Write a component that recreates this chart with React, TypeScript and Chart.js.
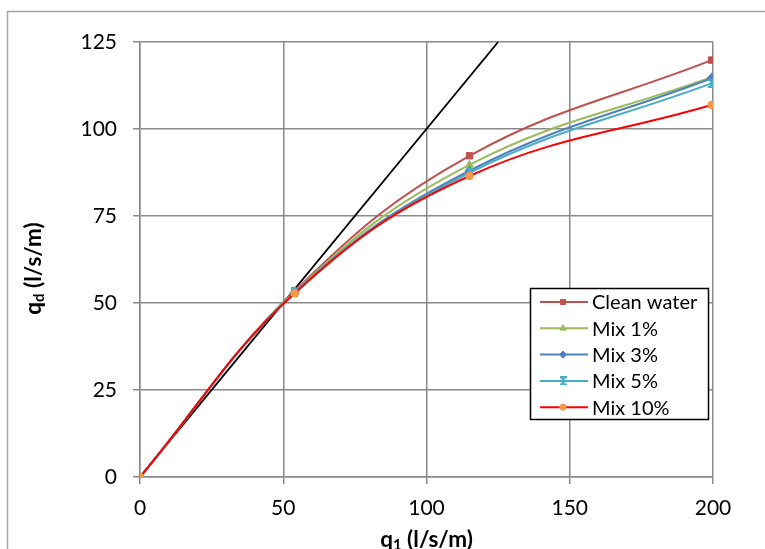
import React, { useEffect, useRef } from "react";
import { Chart, registerables } from "chart.js";
import { drawPoint } from "chart.js/helpers";

Chart.register(...registerables);

// ---- data ----
const xValues = [0, 54, 115, 199.5];
const cleanWater = [0, 53.5, 92.3, 119.8];
const mix1 = [0, 53.2, 89.7, 114.9];
const mix3 = [0, 53.0, 88.0, 114.6];
const mix5 = [0, 52.9, 87.4, 113.1];
const mix10 = [0, 52.8, 86.5, 106.9];
const refLineX = [0, 125];
const refLineY = [0, 125];
const seriesNames = ["Clean water", "Mix 1%", "Mix 3%", "Mix 5%", "Mix 10%"];
const xAxisMin = 0, xAxisMax = 200, xAxisStep = 50;
const yAxisMin = 0, yAxisMax = 125, yAxisStep = 25;

const FONT = "Lato, 'Open Sans', sans-serif";
const GRID = "#8a8a8a";

function makeIBeam(color: string): HTMLCanvasElement {
  const c = document.createElement("canvas");
  c.width = 7;
  c.height = 9;
  const g = c.getContext("2d")!;
  g.fillStyle = color;
  g.fillRect(0, 0, 7, 2);
  g.fillRect(0, 7, 7, 2);
  g.fillRect(2, 0, 3, 9);
  return c;
}

const seriesStyles = [
  { line: "#C0504D", marker: "#C0504D", style: "rect", radius: 4.5 },
  { line: "#9BBB59", marker: "#9BBB59", style: "triangle", radius: 4.5 },
  { line: "#4F81BD", marker: "#4F81BD", style: "rectRot", radius: 4.5 },
  { line: "#4BACC6", marker: "#4BACC6", style: "ibeam", radius: 4.5 },
  { line: "#FF0000", marker: "#F79646", style: "circle", radius: 3.8 },
];

function toPts(xs: number[], ys: number[]) {
  return xs.map((x, i) => ({ x, y: ys[i] }));
}

type Part = { t: string; sub?: boolean };

function drawRich(ctx: CanvasRenderingContext2D, parts: Part[], size: number) {
  const main = `bold ${size}px ${FONT}`;
  const small = `bold ${Math.round(size * 0.65)}px ${FONT}`;
  let total = 0;
  for (const p of parts) {
    ctx.font = p.sub ? small : main;
    total += ctx.measureText(p.t).width;
  }
  let x = -total / 2;
  ctx.textAlign = "left";
  ctx.textBaseline = "middle";
  for (const p of parts) {
    ctx.font = p.sub ? small : main;
    ctx.fillText(p.t, x, p.sub ? size * 0.22 : 0);
    x += ctx.measureText(p.t).width;
  }
}

export default function App() {
  const ref = useRef<HTMLCanvasElement | null>(null);

  useEffect(() => {
    const canvas = ref.current!;
    const ibeam = makeIBeam(seriesStyles[3].marker);
    const pStyle = (s: string) => (s === "ibeam" ? ibeam : s);
    const seriesData = [cleanWater, mix1, mix3, mix5, mix10];

    const datasets: any[] = seriesData.map((ys, i) => ({
      label: seriesNames[i],
      data: toPts(xValues, ys),
      showLine: true,
      borderColor: seriesStyles[i].line,
      borderWidth: 2,
      backgroundColor: seriesStyles[i].marker,
      pointBackgroundColor: seriesStyles[i].marker,
      pointBorderColor: seriesStyles[i].marker,
      pointBorderWidth: 1,
      pointStyle: pStyle(seriesStyles[i].style),
      pointRadius: seriesStyles[i].radius,
      tension: 0.4,
      order: 5 - i,
    }));
    datasets.push({
      label: "1:1",
      data: toPts(refLineX, refLineY),
      showLine: true,
      borderColor: "#000000",
      borderWidth: 1.8,
      pointRadius: 0,
      tension: 0,
      order: 10,
    });

    const overlay = {
      id: "overlay",
      beforeDraw(chart: any) {
        const ctx = chart.ctx as CanvasRenderingContext2D;
        ctx.save();
        ctx.fillStyle = "#ffffff";
        ctx.fillRect(0, 0, chart.width, chart.height);
        ctx.strokeStyle = "#a6a6a6";
        ctx.lineWidth = 1.5;
        ctx.beginPath();
        ctx.moveTo(7.5, chart.height + 5);
        ctx.lineTo(7.5, 11.5);
        ctx.lineTo(chart.width + 5, 11.5);
        ctx.stroke();
        ctx.restore();
      },
      afterDraw(chart: any) {
        const ctx = chart.ctx as CanvasRenderingContext2D;
        const area = chart.chartArea;
        // axis titles
        ctx.save();
        ctx.fillStyle = "#000000";
        ctx.translate(34, (area.top + area.bottom) / 2 + 9);
        ctx.rotate(-Math.PI / 2);
        drawRich(ctx, [{ t: "q" }, { t: "d", sub: true }, { t: " (l/s/m)" }], 22.5);
        ctx.restore();
        ctx.save();
        ctx.fillStyle = "#000000";
        ctx.translate((area.left + area.right) / 2, 540);
        drawRich(ctx, [{ t: "q" }, { t: "1", sub: true }, { t: " (l/s/m)" }], 22.5);
        ctx.restore();

        // legend
        const bx = 530, by = 288, bw = 178, bh = 131;
        ctx.save();
        ctx.fillStyle = "#ffffff";
        ctx.fillRect(bx, by, bw, bh);
        ctx.strokeStyle = "#000000";
        ctx.lineWidth = 1.5;
        ctx.strokeRect(bx + 0.5, by + 0.5, bw, bh);
        ctx.font = `20px ${FONT}`;
        ctx.textBaseline = "middle";
        ctx.textAlign = "left";
        seriesNames.forEach((name, i) => {
          const y = 302 + i * 26.3;
          const st = seriesStyles[i];
          ctx.strokeStyle = st.line;
          ctx.lineWidth = 2;
          ctx.beginPath();
          ctx.moveTo(540, y);
          ctx.lineTo(588, y);
          ctx.stroke();
          ctx.fillStyle = st.marker;
          ctx.strokeStyle = st.marker;
          ctx.lineWidth = 1;
          drawPoint(ctx, { pointStyle: pStyle(st.style) as any, radius: st.radius * 0.8, rotation: 0, borderWidth: 1 } as any, 563, y);
          ctx.fillStyle = "#000000";
          ctx.fillText(name, 592, y + 1);
        });
        ctx.restore();
      },
    };

    const chart = new Chart(canvas, {
      type: "scatter",
      data: { datasets },
      plugins: [overlay],
      options: {
        animation: false,
        responsive: false,
        devicePixelRatio: 1,
        layout: { padding: { left: 0, right: 52, top: 42, bottom: 0 } },
        plugins: {
          legend: { display: false },
          tooltip: { enabled: false },
        },
        scales: {
          x: {
            type: "linear",
            min: xAxisMin,
            max: xAxisMax,
            ticks: { stepSize: xAxisStep, color: "#000", font: { family: FONT, size: 21 }, padding: 12 },
            grid: { color: GRID, lineWidth: 1.5, tickLength: 7, tickColor: GRID, drawTicks: true },
            border: { display: true, color: GRID, width: 1.5 },
            afterFit(scale: any) {
              scale.height = 72;
            },
          },
          y: {
            type: "linear",
            min: yAxisMin,
            max: yAxisMax,
            ticks: { stepSize: yAxisStep, color: "#000", font: { family: FONT, size: 21 }, padding: 16 },
            grid: { color: GRID, lineWidth: 1.5, tickLength: 7, tickColor: GRID, drawTicks: true },
            border: { display: true, color: GRID, width: 1.5 },
            afterFit(scale: any) {
              scale.width = 140;
            },
          },
        },
      } as any,
    });
    return () => chart.destroy();
  }, []);

  return (
    <div style={{ position: "fixed", left: 0, top: 0, width: 765, height: 549, background: "#fff" }}>
      <canvas ref={ref} width={765} height={549} style={{ display: "block", width: 765, height: 549 }} />
    </div>
  );
}
